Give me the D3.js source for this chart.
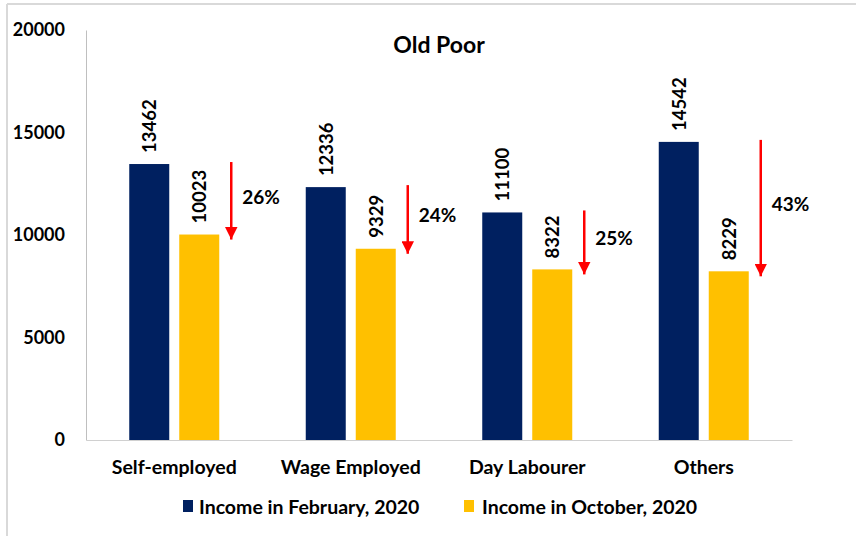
<!DOCTYPE html>
<html><head><meta charset="utf-8">
<script src="https://cdn.jsdelivr.net/npm/d3@7"></script>
<style>body{margin:0;background:#fff;}svg{display:block;font-family:Lato,"Open Sans",sans-serif;font-weight:bold;}</style>
</head><body><svg id="c" width="856" height="536"></svg>
<script>
const categories = ["Self-employed","Wage Employed","Day Labourer","Others"];
const seriesNames = ["Income in February, 2020","Income in October, 2020"];
const febIncome = [13462,12336,11100,14542];
const octIncome = [10023,9329,8322,8229];
const dropLabels = ["26%","24%","25%","43%"];
const yTicks = [0,5000,10000,15000,20000];
const colors = ["#002060","#FFC000"];

const svg = d3.select("#c");
// outer frame
svg.append("line").attr("x1",7).attr("x2",856).attr("y1",4).attr("y2",4).attr("stroke","#d9d9d9").attr("stroke-width",2);
svg.append("line").attr("x1",7).attr("x2",7).attr("y1",4).attr("y2",536).attr("stroke","#d9d9d9").attr("stroke-width",2);

const x0 = 86, x1 = 792, yTop = 30, yBot = 440;
const x = d3.scaleBand().domain(categories).range([x0,x1]);
const y = d3.scaleLinear().domain([0,20000]).range([yBot,yTop]);
const sub = d3.scaleBand().domain([0,1]).range([-45,45]).paddingInner(0.2);

// axes
const yAxis = d3.axisLeft(y).tickValues(yTicks).tickSize(0).tickPadding(21).tickFormat(d3.format("d"));
const gy = svg.append("g").attr("transform",`translate(${x0},0)`).call(yAxis);
gy.select(".domain").attr("stroke","#bfbfbf");
gy.selectAll("text").attr("font-size",18).attr("fill","#000").attr("font-family","Lato");
const xAxis = d3.axisBottom(x).tickSize(0).tickPadding(20);
const gx = svg.append("g").attr("transform",`translate(0,${yBot})`).call(xAxis);
gx.select(".domain").attr("stroke","#d0d0d0");
gx.selectAll("text").attr("font-size",19.5).attr("fill","#000").attr("font-family","Lato");

// title
svg.append("text").attr("x",439).attr("y",53).attr("text-anchor","middle").attr("font-size",23).text("Old Poor");

const series = [febIncome, octIncome];
series.forEach((vals,si)=>{
  const g = svg.append("g");
  g.selectAll("rect").data(vals).join("rect")
    .attr("x",(d,i)=>x(categories[i])+x.bandwidth()/2+sub(si))
    .attr("y",d=>y(d)).attr("width",sub.bandwidth()).attr("height",d=>y(0)-y(d))
    .attr("fill",colors[si]);
  g.selectAll("text").data(vals).join("text")
    .attr("transform",(d,i)=>`translate(${x(categories[i])+x.bandwidth()/2+sub(si)+sub.bandwidth()/2+7},${y(d)-11}) rotate(-90)`)
    .attr("font-size",18.5).attr("fill","#000").text(d=>d);
});

// arrows
const defs = svg.append("defs");
defs.append("marker").attr("id","ah").attr("viewBox","0 0 10 10").attr("refX",10).attr("refY",5)
  .attr("markerWidth",5).attr("markerHeight",5).attr("markerUnits","strokeWidth").attr("orient","auto")
  .append("path").attr("d","M0,0L10,5L0,10Z").attr("fill","#ff0000");
categories.forEach((c,i)=>{
  const ax = x(c)+x.bandwidth()/2+sub(1)+sub.bandwidth()+12;
  const t = y(febIncome[i])-2, b = y(octIncome[i])+5;
  svg.append("line").attr("x1",ax).attr("x2",ax).attr("y1",t).attr("y2",b)
    .attr("stroke","#ff0000").attr("stroke-width",2.5).attr("marker-end","url(#ah)");
  svg.append("text").attr("x",ax+11).attr("y",(t+b)/2+3).attr("font-size",19).attr("fill","#000").text(dropLabels[i]);
});

// legend
const leg = [{x:183,tx:199},{x:464,tx:482}];
seriesNames.forEach((n,i)=>{
  svg.append("rect").attr("x",leg[i].x).attr("y",500).attr("width",10).attr("height",12).attr("fill",colors[i]);
  svg.append("text").attr("x",leg[i].tx).attr("y",514).attr("font-size",19.5).attr("fill","#000").text(n);
});
</script></body></html>
